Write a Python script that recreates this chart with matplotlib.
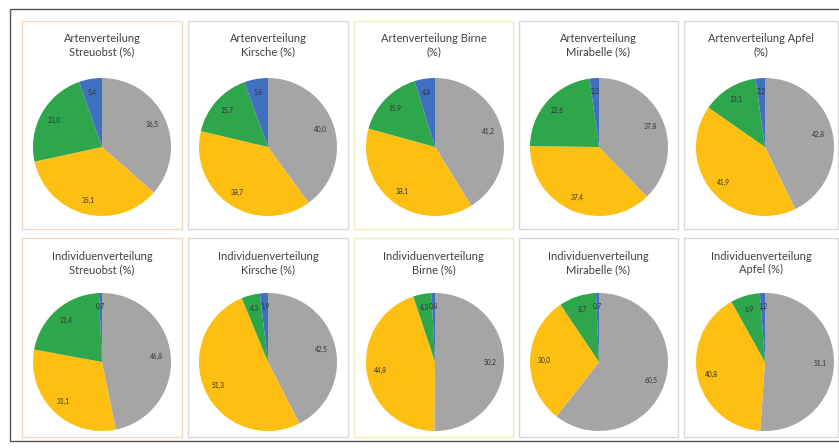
import matplotlib
matplotlib.use("Agg")
import matplotlib.pyplot as plt
from matplotlib.patches import Rectangle

# Slice order (clockwise from 12 o'clock): grey, yellow, green, blue
titles_arten = ["Artenverteilung\nStreuobst (%)", "Artenverteilung\nKirsche (%)",
                "Artenverteilung Birne\n(%)", "Artenverteilung\nMirabelle (%)",
                "Artenverteilung Apfel\n(%)"]
titles_indiv = ["Individuenverteilung\nStreuobst (%)", "Individuenverteilung\nKirsche (%)",
                "Individuenverteilung\nBirne (%)", "Individuenverteilung\nMirabelle (%)",
                "Individuenverteilung\nApfel (%)"]

arten_streuobst = [36.5, 35.1, 23.0, 5.4]
arten_kirsche = [40.0, 38.7, 15.7, 5.6]
arten_birne = [41.2, 38.1, 15.9, 4.8]
arten_mirabelle = [37.8, 37.4, 22.6, 2.2]
arten_apfel = [42.8, 41.9, 13.1, 2.2]

indiv_streuobst = [46.8, 31.1, 21.4, 0.7]
indiv_kirsche = [42.5, 51.3, 4.3, 1.9]
indiv_birne = [50.2, 44.8, 4.3, 0.8]
indiv_mirabelle = [60.5, 30.0, 8.7, 0.7]
indiv_apfel = [51.1, 40.8, 6.9, 1.2]

slice_colors = ["#a5a5a5", "#fcbf12", "#2ea64b", "#4170c0"]
frame_colors = ["#eed9c4", "#d9d9d9", "#f0ecc0", "#d3d8e2", "#d9d9d9"]

W, H = 839, 448
fig = plt.figure(figsize=(W / 100, H / 100), dpi=100)
fig.patch.set_facecolor("white")
plt.rcParams["font.family"] = ["Lato", "DejaVu Sans"]


def fig_rect(x0, y0, x1, y1, color, lw):
    fig.patches.append(Rectangle((x0 / W, 1 - y1 / H), (x1 - x0) / W, (y1 - y0) / H,
                                 transform=fig.transFigure, fill=False,
                                 edgecolor=color, linewidth=lw, zorder=0))


# outer frame
fig_rect(10, 9, 860, 441, "#555555", 1.0)

panel_x = [(22, 182), (188, 348), (354, 513), (519, 678), (684, 838)]
pie_cx = [102, 268, 435, 599, 765]
rows = [
    dict(y=(21, 229), cy=147, ty=45, titles=titles_arten,
         data=[arten_streuobst, arten_kirsche, arten_birne, arten_mirabelle, arten_apfel]),
    dict(y=(238, 437), cy=362, ty=263, titles=titles_indiv,
         data=[indiv_streuobst, indiv_kirsche, indiv_birne, indiv_mirabelle, indiv_apfel]),
]
R = 69

for row in rows:
    for i in range(5):
        x0, x1 = panel_x[i]
        fig_rect(x0, row["y"][0], x1, row["y"][1], frame_colors[i], 1.0)
        cx = pie_cx[i]
        cy = row["cy"]
        ax = fig.add_axes([(cx - R) / W, 1 - (cy + R) / H, 2 * R / W, 2 * R / H])
        vals = row["data"][i]
        wedges, texts = ax.pie(vals, colors=slice_colors, startangle=90, counterclock=False,
                               labels=[f"{v:.1f}".replace(".", ",") for v in vals],
                               labeldistance=0.8, radius=1.0,
                               wedgeprops=dict(linewidth=0),
                               textprops=dict(fontsize=4.8, color="#333333",
                                              ha="center", va="center"))
        for t in texts:
            t.set_horizontalalignment("center")
        ax.set_xlim(-1, 1)
        ax.set_ylim(-1, 1)
        ax.set_aspect("equal")
        ax.axis("off")
        fig.text(((x0 + x1) / 2) / W, 1 - row["ty"] / H, row["titles"][i],
                 ha="center", va="center", fontsize=8.0, color="#404040",
                 linespacing=1.3)

fig.savefig("out.png", dpi=100)
